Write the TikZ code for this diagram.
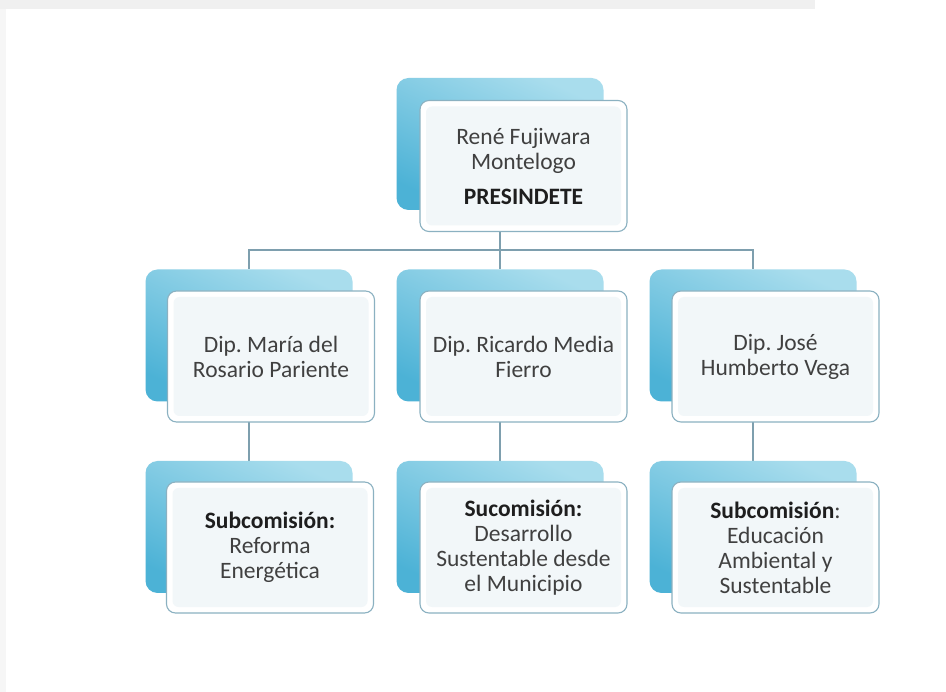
\documentclass[tikz,border=0pt]{standalone}
\usepackage{fontspec}
\setmainfont{Carlito}
\usetikzlibrary{backgrounds,calc}
\definecolor{blueLight}{HTML}{A9DDED}
\definecolor{blueDark}{HTML}{4CB2D6}
\definecolor{frontEdge}{HTML}{8BB1C1}
\definecolor{frontIn}{HTML}{F2F7F9}
\definecolor{connCol}{HTML}{7E9FAE}
\definecolor{txtCol}{HTML}{404040}
\definecolor{boldCol}{HTML}{1E1E1E}
\definecolor{stripCol}{HTML}{F0F0F0}
\tikzset{
  backbox/.style={rectangle, rounded corners=12pt, minimum width=207pt, minimum height=132pt,
    inner sep=0pt, top color=blueLight, bottom color=blueDark, shading angle=-25, draw=none},
  frontbox/.style={rectangle, rounded corners=9pt, minimum width=207pt, minimum height=131pt,
    inner sep=0pt, fill=white, draw=frontEdge, line width=1.1pt, align=center,
    text=txtCol, font=\fontsize{23.5}{25}\selectfont,
    path picture={\fill[frontIn, rounded corners=6pt]
      ([shift={(6pt,-6pt)}]path picture bounding box.north west) rectangle
      ([shift={(-6pt,6pt)}]path picture bounding box.south east);}},
  conn/.style={draw=connCol, line width=1.3pt}
}
\newcommand{\bb}[1]{{\bfseries\color{boldCol}#1}}
\frenchspacing
\begin{document}
\begin{tikzpicture}[x=1pt,y=-1pt]
\useasboundingbox (0,0) rectangle (946,692);
\begin{pgfonlayer}{background}
\fill[white] (0,0) rectangle (946,692);
\fill[stripCol] (0,0) rectangle (815,9);
\fill[stripCol!60!white] (0,9) rectangle (6,692);
\end{pgfonlayer}

% back boxes
\node[backbox] (topB) at (500,144) {};
\node[backbox] (m1B) at (249,335.5) {};
\node[backbox] (m2B) at (500,335.5) {};
\node[backbox] (m3B) at (753,335.5) {};
\node[backbox] (s1B) at (249,527) {};
\node[backbox] (s2B) at (500,527) {};
\node[backbox] (s3B) at (753,527) {};

\coordinate (bus) at (500,250);

% front boxes
\node[frontbox] (top) at (523.5,166) {René Fujiwara\\Montelogo\\[10pt]\bb{PRESINDETE}};
\node[frontbox] (m1) at (271,356.5) {Dip. María del\\Rosario Pariente};
\node[frontbox] (m2) at (523.5,356.5) {Dip. Ricardo Media\\Fierro};
\node[frontbox] (m3) at (775.5,356.5) {Dip. José\\Humberto Vega};
\node[frontbox] (s1) at (270,547.5) {\bb{Subcomisión:}\\Reforma\\Energética};
\node[frontbox] (s2) at (523.5,547.5) {\bb{Sucomisión:}\\Desarrollo\\Sustentable desde\\el Municipio};
\node[frontbox] (s3) at (775.5,547.5) {\bb{Subcomisión}:\\Educación\\Ambiental y\\Sustentable};

\begin{pgfonlayer}{background}
\draw[conn] (topB.south) -- (m2B.north);
\draw[conn] (topB.south |- bus) -| (m1B.north);
\draw[conn] (topB.south |- bus) -| (m3B.north);
\draw[conn] (m1B.south) -- (s1B.north);
\draw[conn] (m2B.south) -- (s2B.north);
\draw[conn] (m3B.south) -- (s3B.north);
\end{pgfonlayer}
\end{tikzpicture}
\end{document}
